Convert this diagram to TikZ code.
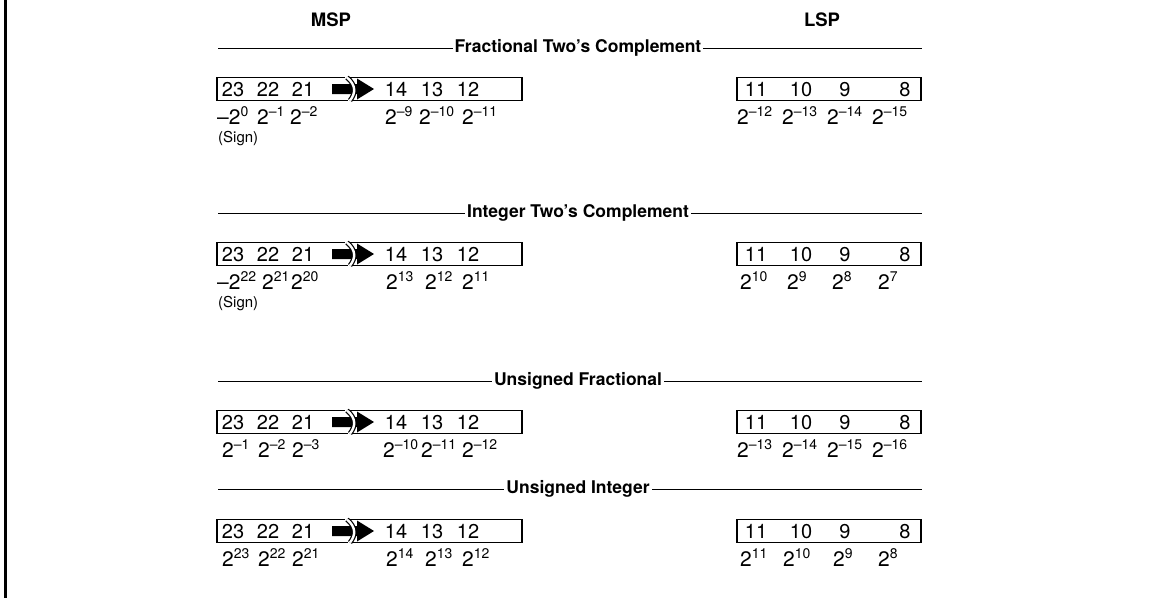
\documentclass[tikz,border=0pt]{standalone}
\usepackage{fontspec}
\setmainfont{TeX Gyre Heros}
\newcommand\pw[2]{#1\raisebox{0.36em}{\fontsize{14}{14}\selectfont #2}}
\begin{document}
\begin{tikzpicture}[x=1pt,y=-1pt,
  boxline/.style={line width=1.4pt},
  rule/.style={line width=0.8pt},
  breakarc/.style={line width=1.2pt, double=white, double distance=2.4pt},
  dig/.style={font=\fontsize{20}{22}\selectfont, inner sep=0pt, anchor=base},
  expo/.style={font=\fontsize{21}{22}\selectfont, inner sep=0pt, anchor=base west},
  head/.style={font=\fontsize{17.5}{20}\selectfont\bfseries, fill=white, inner xsep=2pt, inner ysep=1pt},
  lab/.style={font=\fontsize{18.5}{20}\selectfont\bfseries},
  signl/.style={font=\fontsize{15}{16}\selectfont, inner sep=0pt, anchor=base west}]
\useasboundingbox (0,0) rectangle (1160,598);
\draw[line width=3pt] (5,0) -- (5,598);
\node[lab] (msp) at (331,20) {MSP};
\node[lab] (lsp) at (822,20) {LSP};
% headings
\foreach \y/\t/\n in {48/Fractional Two’s Complement/h1, 213/Integer Two’s Complement/h2, 381/Unsigned Fractional/h3, 489/Unsigned Integer/h4}{
  \draw[rule] (218,\y) -- (922,\y);
  \node[head] (\n) at (578,\y) {\t};
}
% boxes
\foreach \y/\r in {89/1, 254/2, 422/3, 531/4}{
  \begin{scope}[shift={(0,\y)}]
    \draw[boxline] (345,-11.5) -- (217,-11.5) -- (217,11.5) -- (348,11.5);
    \draw[boxline] (349,-11.5) -- (522,-11.5) -- (522,11.5) -- (352,11.5);
    \fill (332,-5) -- (357,-5) -- (357,-10.5) -- (374,0) -- (357,10.5) -- (357,5) -- (332,5) -- cycle;
    \draw[breakarc] (347,-11.5) .. controls (356,-4) and (356,4) .. (350,11.5);
    \foreach \x/\d in {233/23, 268/22, 303/21, 396/14, 432/13, 468/12}{
      \node[dig] (m\r d\d) at (\x,7.1) {\d};
    }
    \draw[boxline] (737,-11.5) rectangle (921,11.5);
    \foreach \x/\d in {756/11, 801/10, 845/9, 905/8}{
      \node[dig] (l\r d\d) at (\x,7.1) {\d};
    }
  \end{scope}
}
% row 1 exponents
\node[expo] (e1a) at (217,124) {\pw{–2}{0}};
\node[expo] (e1b) at (257,124) {\pw{2}{–1}};
\node[expo] (e1c) at (290,124) {\pw{2}{–2}};
\node[expo] (e1d) at (385,124) {\pw{2}{–9}};
\node[expo] (e1e) at (419,124) {\pw{2}{–10}};
\node[expo] (e1f) at (462,124) {\pw{2}{–11}};
\node[expo] (e1g) at (737,124) {\pw{2}{–12}};
\node[expo] (e1h) at (782,124) {\pw{2}{–13}};
\node[expo] (e1i) at (827,124) {\pw{2}{–14}};
\node[expo] (e1j) at (872,124) {\pw{2}{–15}};
\node[signl] (s1) at (218,142) {(Sign)};
% row 2 exponents
\node[expo] (e2a) at (217,289) {\pw{–2}{22}};
\node[expo] (e2b) at (262,289) {\pw{2}{21}};
\node[expo] (e2c) at (291,289) {\pw{2}{20}};
\node[expo] (e2d) at (386,289) {\pw{2}{13}};
\node[expo] (e2e) at (425,289) {\pw{2}{12}};
\node[expo] (e2f) at (462,289) {\pw{2}{11}};
\node[expo] (e2g) at (740,289) {\pw{2}{10}};
\node[expo] (e2h) at (787,289) {\pw{2}{9}};
\node[expo] (e2i) at (832,289) {\pw{2}{8}};
\node[expo] (e2j) at (878,289) {\pw{2}{7}};
\node[signl] (s2) at (218,307) {(Sign)};
% row 3 exponents
\node[expo] (e3a) at (222,457) {\pw{2}{–1}};
\node[expo] (e3b) at (258,457) {\pw{2}{–2}};
\node[expo] (e3c) at (292,457) {\pw{2}{–3}};
\node[expo] (e3d) at (383,457) {\pw{2}{–10}};
\node[expo] (e3e) at (421,457) {\pw{2}{–11}};
\node[expo] (e3f) at (462,457) {\pw{2}{–12}};
\node[expo] (e3g) at (737,457) {\pw{2}{–13}};
\node[expo] (e3h) at (782,457) {\pw{2}{–14}};
\node[expo] (e3i) at (827,457) {\pw{2}{–15}};
\node[expo] (e3j) at (872,457) {\pw{2}{–16}};
% row 4 exponents
\node[expo] (e4a) at (222,566) {\pw{2}{23}};
\node[expo] (e4b) at (258,566) {\pw{2}{22}};
\node[expo] (e4c) at (292,566) {\pw{2}{21}};
\node[expo] (e4d) at (386,566) {\pw{2}{14}};
\node[expo] (e4e) at (425,566) {\pw{2}{13}};
\node[expo] (e4f) at (462,566) {\pw{2}{12}};
\node[expo] (e4g) at (740,566) {\pw{2}{11}};
\node[expo] (e4h) at (783,566) {\pw{2}{10}};
\node[expo] (e4i) at (833,566) {\pw{2}{9}};
\node[expo] (e4j) at (878,566) {\pw{2}{8}};
\end{tikzpicture}
\end{document}
